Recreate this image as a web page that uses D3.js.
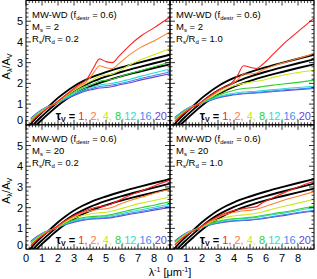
<!DOCTYPE html>
<html><head><meta charset="utf-8">
<script src="https://cdn.jsdelivr.net/npm/d3@7"></script>
<style>body{margin:0;background:#fff}svg{display:block;font-family:"Liberation Sans",Arial,Helvetica,sans-serif}</style>
</head><body><svg id="c" width="317" height="279"></svg>
<script>
// ---- data ----
const tauV = [1, 2, 4, 8, 12, 16, 20];
const tauColors = ["#ff2020", "#ff8030", "#cce81e", "#2ed02e", "#2adcd0", "#3a8ef0", "#7040d0"];
const xTicks = [0, 1, 2, 3, 4, 5, 6, 7, 8];
const yTicks = [0, 1, 2, 3, 4, 5];

// reference (black) curves
const refX = [0.2, 0.6, 1, 1.5, 2, 2.5, 3, 3.5, 4, 5, 6, 7, 8, 9];
const ref1 = [-0.05, 0.3, 0.6, 0.95, 1.3, 1.6, 1.86, 2.08, 2.26, 2.54, 2.78, 2.99, 3.19, 3.38];
const ref2 = [-0.22, 0.12, 0.42, 0.77, 1.1, 1.4, 1.65, 1.86, 2.04, 2.33, 2.56, 2.77, 2.97, 3.16];
const ref3 = [-0.4, -0.05, 0.25, 0.6, 0.93, 1.22, 1.46, 1.67, 1.84, 2.12, 2.35, 2.55, 2.74, 2.92];

// attenuation curves
const curveX = [0.3, 0.7, 1.2, 1.8, 2.5, 3.2, 3.8, 4.2, 4.6, 5.0, 5.4, 5.8, 6.5, 7.2, 8.0, 9.0];

const ms2_r02 = [
  [0.12, 0.42, 0.72, 1.02, 1.45, 1.88, 2.2, 2.72, 3.18, 3.05, 3.0, 3.3, 3.85, 4.3, 4.68, 5.2],
  [0.15, 0.45, 0.74, 1.02, 1.43, 1.83, 2.1, 2.48, 2.85, 2.75, 2.72, 2.95, 3.4, 3.75, 4.05, 4.48],
  [0.18, 0.48, 0.76, 1.01, 1.4, 1.75, 2.02, 2.18, 2.35, 2.4, 2.45, 2.6, 2.9, 3.15, 3.38, 3.68],
  [0.22, 0.5, 0.78, 1.0, 1.35, 1.65, 1.88, 1.98, 2.1, 2.15, 2.2, 2.3, 2.48, 2.62, 2.8, 3.03],
  [0.26, 0.53, 0.8, 1.0, 1.3, 1.57, 1.76, 1.84, 1.92, 1.97, 2.0, 2.07, 2.2, 2.35, 2.5, 2.71],
  [0.29, 0.55, 0.81, 1.0, 1.27, 1.52, 1.69, 1.77, 1.85, 1.88, 1.92, 1.98, 2.1, 2.25, 2.38, 2.55],
  [0.31, 0.57, 0.82, 1.0, 1.25, 1.48, 1.64, 1.71, 1.78, 1.8, 1.85, 1.92, 2.03, 2.17, 2.3, 2.47]
];
const ms2_r10 = [
  [0.15, 0.45, 0.74, 1.02, 1.4, 1.75, 1.98, 2.35, 2.85, 2.78, 2.72, 2.92, 3.45, 3.98, 4.5, 5.15],
  [0.18, 0.48, 0.76, 1.01, 1.38, 1.7, 1.95, 2.15, 2.45, 2.45, 2.5, 2.65, 2.85, 3.02, 3.2, 3.45],
  [0.22, 0.5, 0.78, 1.0, 1.33, 1.6, 1.82, 1.92, 2.0, 2.05, 2.1, 2.15, 2.3, 2.42, 2.52, 2.63],
  [0.27, 0.54, 0.8, 1.0, 1.27, 1.48, 1.62, 1.7, 1.75, 1.78, 1.8, 1.85, 1.92, 1.98, 2.05, 2.15],
  [0.31, 0.57, 0.82, 1.0, 1.22, 1.4, 1.5, 1.55, 1.58, 1.6, 1.62, 1.65, 1.7, 1.75, 1.8, 1.86],
  [0.34, 0.59, 0.83, 1.0, 1.2, 1.36, 1.45, 1.49, 1.52, 1.54, 1.56, 1.59, 1.64, 1.69, 1.73, 1.79],
  [0.36, 0.6, 0.84, 1.0, 1.18, 1.33, 1.42, 1.46, 1.5, 1.52, 1.54, 1.56, 1.61, 1.65, 1.7, 1.75]
];
const ms20_r02 = [
  [0.15, 0.45, 0.74, 1.02, 1.4, 1.7, 1.88, 1.98, 2.05, 2.1, 2.2, 2.35, 2.6, 2.8, 3.05, 3.33],
  [0.18, 0.48, 0.76, 1.01, 1.37, 1.65, 1.8, 1.87, 1.92, 1.95, 2.02, 2.15, 2.35, 2.5, 2.7, 2.88],
  [0.23, 0.51, 0.78, 1.0, 1.32, 1.55, 1.67, 1.72, 1.75, 1.78, 1.84, 1.92, 2.08, 2.22, 2.35, 2.53],
  [0.28, 0.55, 0.8, 1.0, 1.27, 1.45, 1.55, 1.58, 1.6, 1.62, 1.68, 1.75, 1.88, 2.0, 2.12, 2.29],
  [0.32, 0.58, 0.82, 1.0, 1.24, 1.41, 1.5, 1.53, 1.55, 1.57, 1.62, 1.68, 1.8, 1.9, 2.02, 2.17],
  [0.35, 0.6, 0.83, 1.0, 1.21, 1.37, 1.45, 1.48, 1.5, 1.52, 1.56, 1.62, 1.73, 1.82, 1.94, 2.08],
  [0.38, 0.62, 0.84, 1.0, 1.19, 1.34, 1.42, 1.45, 1.47, 1.49, 1.52, 1.58, 1.68, 1.77, 1.88, 2.01]
];
const ms20_r10 = [
  [0.18, 0.48, 0.76, 1.01, 1.37, 1.65, 1.82, 1.9, 1.95, 2.0, 2.05, 2.25, 2.5, 2.75, 3.0, 3.28],
  [0.21, 0.5, 0.78, 1.0, 1.33, 1.6, 1.74, 1.8, 1.85, 1.87, 1.92, 2.02, 2.2, 2.38, 2.55, 2.77],
  [0.26, 0.54, 0.8, 1.0, 1.28, 1.48, 1.58, 1.62, 1.65, 1.68, 1.73, 1.8, 1.95, 2.08, 2.22, 2.4],
  [0.31, 0.57, 0.82, 1.0, 1.23, 1.38, 1.45, 1.48, 1.5, 1.53, 1.57, 1.62, 1.72, 1.8, 1.92, 2.08],
  [0.34, 0.59, 0.83, 1.0, 1.21, 1.35, 1.42, 1.45, 1.47, 1.5, 1.53, 1.58, 1.67, 1.75, 1.86, 2.01],
  [0.37, 0.61, 0.84, 1.0, 1.18, 1.3, 1.36, 1.38, 1.4, 1.42, 1.45, 1.5, 1.58, 1.67, 1.77, 1.88],
  [0.39, 0.63, 0.85, 1.0, 1.17, 1.28, 1.34, 1.36, 1.38, 1.4, 1.43, 1.47, 1.55, 1.63, 1.73, 1.84]
];

const panels = [
  {col: 0, row: 0, ms: "2",  ratio: "0.2", msSep: " =  ", curves: ms2_r02},
  {col: 1, row: 0, ms: "2",  ratio: "1.0", msSep: " =  ", curves: ms2_r10},
  {col: 0, row: 1, ms: "20", ratio: "0.2", msSep: " = ", curves: ms20_r02},
  {col: 1, row: 1, ms: "20", ratio: "1.0", msSep: " = ", curves: ms20_r10}
];

// ---- layout ----
const svg = d3.select("#c");
svg.append("rect").attr("width", 317).attr("height", 279).attr("fill", "#fff");
const leftM = 26, topM = 0.5, pw = 144, ph = 124.3;
const fs = 9.5;

panels.forEach((p, i) => {
  const x0 = leftM + p.col * pw, y0 = topM + p.row * ph;
  const x = d3.scaleLinear().domain([0, 9]).range([x0, x0 + pw]);
  const y = d3.scaleLinear().domain([0, 6]).range([y0 + ph, y0]);
  const g = svg.append("g");
  const cid = "clip" + i;
  svg.append("clipPath").attr("id", cid).append("rect")
    .attr("x", x0).attr("y", y0).attr("width", pw).attr("height", ph);

  const line = d3.line().x(d => x(d[0])).y(d => y(d[1])).curve(d3.curveMonotoneX);
  const plot = g.append("g").attr("clip-path", `url(#${cid})`);
  [ref1, ref2, ref3].forEach(r => {
    plot.append("path").datum(refX.map((v, k) => [v, r[k]]))
      .attr("d", line).attr("fill", "none").attr("stroke", "#000").attr("stroke-width", 1.9);
  });
  for (let k = p.curves.length - 1; k >= 0; k--) {
    plot.append("path").datum(curveX.map((v, j) => [v, p.curves[k][j]]))
      .attr("d", line).attr("fill", "none").attr("stroke", tauColors[k]).attr("stroke-width", 1.1);
  }

  // frame
  g.append("rect").attr("x", x0).attr("y", y0).attr("width", pw).attr("height", ph)
    .attr("fill", "none").attr("stroke", "#000").attr("stroke-width", 1);

  // ticks
  const minorX = d3.range(0, 9.001, 0.2), minorY = d3.range(0, 6.001, 0.2);
  const tk = g.append("g").attr("stroke", "#000").attr("stroke-width", 0.8);
  minorX.forEach(v => {
    const major = Math.abs(v - Math.round(v)) < 1e-6;
    const L = major ? 5 : 2.5;
    tk.append("line").attr("x1", x(v)).attr("x2", x(v)).attr("y1", y(0)).attr("y2", y(0) - L);
    tk.append("line").attr("x1", x(v)).attr("x2", x(v)).attr("y1", y(6)).attr("y2", y(6) + L);
  });
  minorY.forEach(v => {
    const major = Math.abs(v - Math.round(v)) < 1e-6;
    const L = major ? 5 : 2.5;
    tk.append("line").attr("y1", y(v)).attr("y2", y(v)).attr("x1", x(0)).attr("x2", x(0) + L);
    tk.append("line").attr("y1", y(v)).attr("y2", y(v)).attr("x1", x(9)).attr("x2", x(9) - L);
  });

  // tick labels
  if (p.col === 0) {
    yTicks.forEach(v => {
      g.append("text").attr("x", x0 - 3).attr("y", v === 0 ? y(v) - 0.5 : y(v) + 4)
        .attr("text-anchor", "end").attr("font-size", 11).text(v);
    });
  }
  if (p.row === 1) {
    xTicks.forEach(v => {
      g.append("text").attr("x", x(v)).attr("y", y0 + ph + 13)
        .attr("text-anchor", "middle").attr("font-size", 11).text(v);
    });
  }

  // annotations
  const t1 = g.append("text").attr("x", x0 + 6).attr("y", y0 + 17).attr("font-size", fs);
  t1.append("tspan").text("MW-WD (f");
  t1.append("tspan").attr("font-size", 6).attr("dy", 2).text("destr");
  t1.append("tspan").attr("dy", -2).text(" = 0.6)");
  const t2 = g.append("text").attr("x", x0 + 6).attr("y", y0 + 29).attr("font-size", fs);
  t2.append("tspan").text("M");
  t2.append("tspan").attr("font-size", 6).attr("dy", 2).text("s");
  t2.append("tspan").attr("dy", -2).text(p.msSep + p.ms);
  const t3 = g.append("text").attr("x", x0 + 6).attr("y", y0 + 41).attr("font-size", fs);
  t3.append("tspan").text("R");
  t3.append("tspan").attr("font-size", 6).attr("dy", 2).text("s");
  t3.append("tspan").attr("dy", -2).text("/R");
  t3.append("tspan").attr("font-size", 6).attr("dy", 2).text("d");
  t3.append("tspan").attr("dy", -2).text(" = " + p.ratio);

  // legend
  const lg = g.append("text").attr("x", x0 + 141).attr("y", y0 + 119)
    .attr("text-anchor", "end").attr("font-size", 11);
  lg.append("tspan").attr("font-weight", "bold").attr("font-size", 12).text("τ");
  lg.append("tspan").attr("font-size", 7).attr("font-weight", "bold").attr("dy", 2).text("V");
  lg.append("tspan").attr("dy", -2).attr("font-weight", "bold").text(" = ");
  tauV.forEach((t, k) => {
    const sep = k < tauV.length - 1 ? (k < 3 ? ", " : ",") : "";
    lg.append("tspan").attr("fill", tauColors[k]).text(t + sep);
  });
});

// axis titles
const xt = svg.append("text").attr("x", 170).attr("y", 276).attr("text-anchor", "middle").attr("font-size", 11);
xt.append("tspan").text("λ");
xt.append("tspan").attr("font-size", 7).attr("dy", -4).text("-1");
xt.append("tspan").attr("dy", 4).text(" [μm");
xt.append("tspan").attr("font-size", 7).attr("dy", -4).text("-1");
xt.append("tspan").attr("dy", 4).text("]");

[0, 1].forEach(r => {
  const cy = topM + r * ph + 66;
  const yt = svg.append("text").attr("transform", `translate(10,${cy}) rotate(-90)`)
    .attr("text-anchor", "middle").attr("font-size", 11);
  yt.append("tspan").text("A");
  yt.append("tspan").attr("font-size", 7).attr("dy", 2).text("λ");
  yt.append("tspan").attr("dy", -2).text("/A");
  yt.append("tspan").attr("font-size", 7).attr("dy", 2).text("V");
});
</script></body></html>
